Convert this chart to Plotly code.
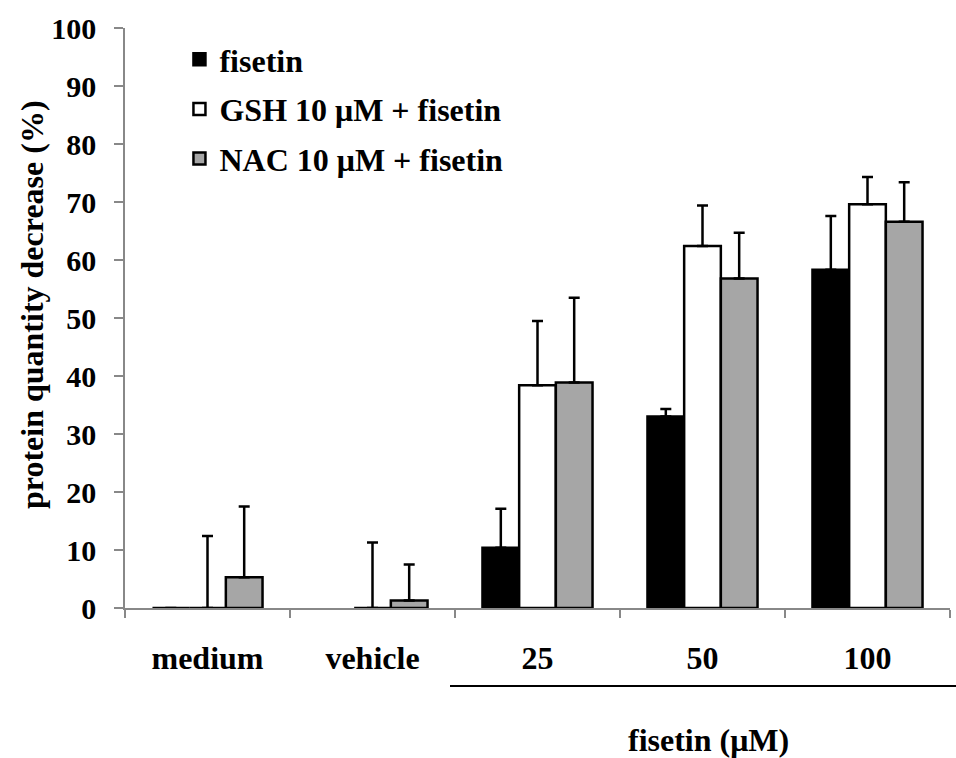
import plotly.graph_objects as go

categories = ["medium", "vehicle", "25", "50", "100"]
series_names = ["fisetin", "GSH 10 μM + fisetin", "NAC 10 μM + fisetin"]
fisetin_vals = [0, None, 10.4, 33.0, 58.3]
fisetin_err = [0, None, 6.7, 1.3, 9.3]
gsh_vals = [0, 0, 38.4, 62.4, 69.6]
gsh_err = [12.4, 11.3, 11.1, 7.0, 4.7]
nac_vals = [5.3, 1.3, 38.9, 56.8, 66.6]
nac_err = [12.2, 6.2, 14.6, 7.9, 6.8]
colors = ["#000000", "#ffffff", "#a6a6a6"]

FONT = "Liberation Serif, Times New Roman, serif"

fig = go.Figure()
for i, (name, vals, errs) in enumerate(zip(series_names,
                                           [fisetin_vals, gsh_vals, nac_vals],
                                           [fisetin_err, gsh_err, nac_err])):
    fig.add_trace(go.Bar(
        x=categories, y=vals, name=name,
        legendgroup=f"g{i}",
        marker=dict(color=colors[i], line=dict(color="#000000", width=2.5)),
        error_y=dict(type="data", array=errs,
                     arrayminus=[0 if e is not None else None for e in errs],
                     symmetric=False, color="#000000", thickness=2.5, width=5.5),
    ))

fig.update_layout(
    width=956, height=758,
    margin=dict(l=125, r=6, t=28, b=150),
    paper_bgcolor="white", plot_bgcolor="white",
    barmode="group", bargap=0.333, bargroupgap=0,
    font=dict(family=FONT, size=30, color="#000000", weight="bold"),
    showlegend=True,
    legend=dict(x=0.066, y=0.993, xanchor="left", yanchor="top",
                traceorder="grouped", tracegroupgap=5,
                font=dict(family=FONT, size=32, weight="bold"),
                bgcolor="rgba(0,0,0,0)"),
)

fig.update_xaxes(
    type="category", showline=True, linecolor="#888888", linewidth=1.5,
    ticks="outside", tickson="boundaries", ticklen=8, tickcolor="#888888",
    tickwidth=1.5, ticklabelstandoff=21,
    tickfont=dict(family=FONT, size=32, weight="bold"),
    showgrid=False, zeroline=False,
)
fig.update_yaxes(
    range=[0, 100], tickvals=list(range(0, 101, 10)),
    showline=True, linecolor="#888888", linewidth=1.5,
    ticks="outside", ticklen=9, tickcolor="#888888", tickwidth=1.5,
    ticklabelstandoff=12,
    tickfont=dict(family=FONT, size=30, weight="bold"),
    showgrid=False, zeroline=False,
)

fig.add_annotation(
    text="protein quantity decrease (%)", textangle=-90,
    xref="paper", yref="paper", x=(32 - 125) / 825, y=(608 - 305) / 580,
    xanchor="center", yanchor="middle", showarrow=False,
    font=dict(family=FONT, size=32, weight="bold"),
)
fig.add_shape(
    type="line", xref="paper", yref="paper",
    x0=(450 - 125) / 825, x1=(956 - 125) / 825,
    y0=(608 - 686) / 580, y1=(608 - 686) / 580,
    line=dict(color="#000000", width=2),
)
fig.add_annotation(
    text="fisetin (μM)",
    xref="paper", yref="paper", x=(708 - 125) / 825, y=(608 - 740) / 580,
    xanchor="center", yanchor="middle", showarrow=False,
    font=dict(family=FONT, size=32, weight="bold"),
)

fig.write_html("out.html")
